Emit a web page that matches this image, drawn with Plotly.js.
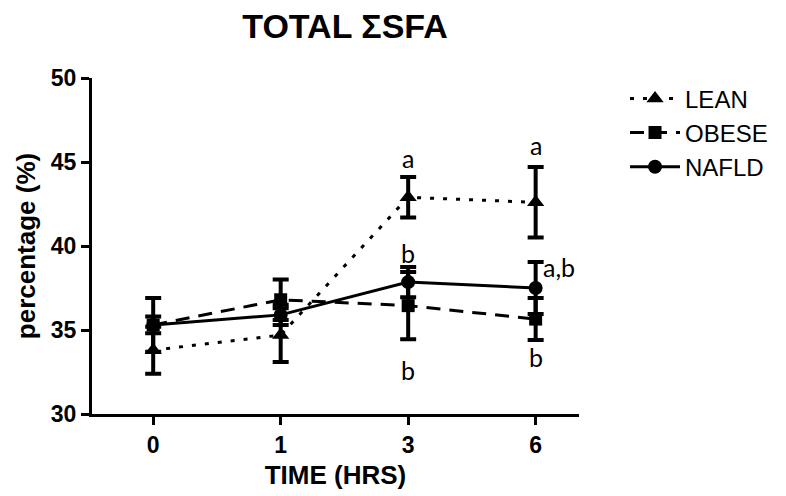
<!DOCTYPE html>
<html><head><meta charset="utf-8">
<script src="https://cdn.plot.ly/plotly-3.0.1.min.js"></script>
<style>html,body{margin:0;padding:0;background:#fff}#chart{width:786px;height:496px}</style>
</head><body><div id="chart"></div>
<script>
const times = ['0','1','3','6'];
const leanMean = [33.8, 34.7, 42.9, 42.6];
const leanErr  = [1.4, 1.6, 1.2, 2.1];
const obeseMean = [35.3, 36.8, 36.45, 35.65];
const obeseErr  = [1.6, 1.2, 2.0, 1.25];
const nafldMean = [35.3, 35.9, 37.85, 37.5];
const nafldErr  = [0.5, 0.6, 0.9, 1.55];
const letterTime = ['3','6','3','3','6','6'];
const letterY = [45.25, 46.0, 39.6, 32.6, 38.75, 33.4];
const letterText = ['a','a','b','b','a,b','b'];

function tr(name, y, e, dash, sym, msize){
  return {x: times, y: y, name: name, type:'scatter', mode:'lines+markers',
    line:{color:'#000', width:3, dash:dash},
    marker:{symbol:sym, size:msize, color:'#000'},
    error_y:{type:'data', array:e, visible:true, color:'#000', thickness:4, width:8}};
}
const data = [
  tr('LEAN', leanMean, leanErr, '4px,9px', 'triangle-up', 15),
  tr('OBESE', obeseMean, obeseErr, '14px,9px', 'square', 13),
  tr('NAFLD', nafldMean, nafldErr, 'solid', 'circle', 14)
];
const annotations = letterText.map((t,i)=>{
  const isAB = t === 'a,b';
  return {x: times.indexOf(letterTime[i]), y: letterY[i], xref:'x', yref:'y', text:t,
    showarrow:false, xanchor: isAB ? 'left' : 'center', xshift: isAB ? 5 : 0,
    font:{family:'Lato, Open Sans, sans-serif', size:25, color:'#000'}};
});
const tickFont = {size:23, color:'#000', family:'Liberation Sans, Arial, sans-serif', weight:'bold'};
const layout = {
  width:786, height:496,
  margin:{l:92, r:207, t:78, b:82},
  paper_bgcolor:'#fff', plot_bgcolor:'#fff',
  font:{family:'Liberation Sans, Arial, sans-serif', color:'#000'},
  title:{text:'<b>TOTAL ΣSFA</b>', font:{size:34, color:'#000'},
    x:345/786, xref:'container', xanchor:'center', y:1-26/496, yref:'container', yanchor:'middle'},
  xaxis:{type:'category', range:[-0.48, 3.34], showgrid:false, zeroline:false,
    showline:true, linewidth:3, linecolor:'#000', ticks:'outside', ticklen:8, tickwidth:3, tickcolor:'#000',
    tickfont:tickFont,
    title:{text:'<b>TIME (HRS)</b>', font:{size:26, color:'#000'}, standoff:10}},
  yaxis:{range:[30,50], tickvals:[30,35,40,45,50], showgrid:false, zeroline:false,
    showline:true, linewidth:3, linecolor:'#000', ticks:'outside', ticklen:8, tickwidth:3, tickcolor:'#000',
    tickfont:tickFont,
    title:{text:'<b>percentage (%)</b>', font:{size:26, color:'#000'}, standoff:8}},
  legend:{x:1.0945, y:1.005, xanchor:'left', yanchor:'top', font:{size:24, color:'#000'}, tracegroupgap:0, itemwidth:50},
  annotations: annotations,
  showlegend:true
};
Plotly.newPlot('chart', data, layout, {staticPlot:true, displayModeBar:false});
</script></body></html>
